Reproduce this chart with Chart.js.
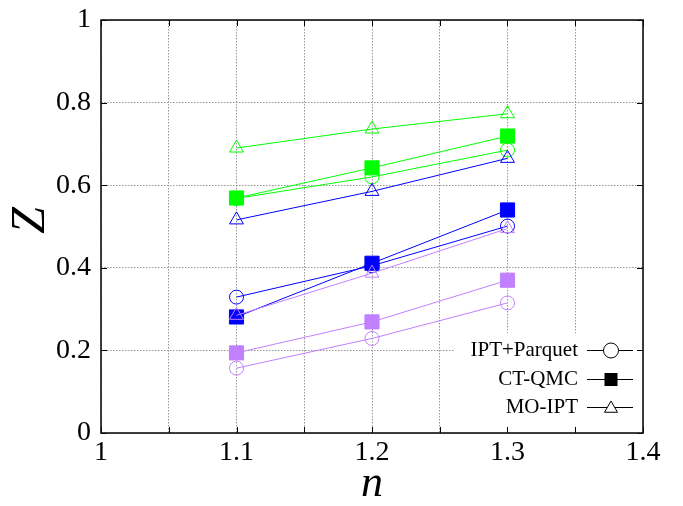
<!DOCTYPE html>
<html>
<head>
<meta charset="utf-8">
<script src="https://cdn.jsdelivr.net/npm/chart.js@4/dist/chart.umd.min.js"></script>
<style>
  html, body { margin: 0; padding: 0; background: #fff; }
  #wrap { width: 683px; height: 506px; }
</style>
</head>
<body>
<div id="wrap"><canvas id="c" width="683" height="506"></canvas></div>
<script>
// ---- data ----
const nValues = [1.1, 1.2, 1.3];

const greenParquet  = [0.568, 0.620, 0.685];
const greenQMC      = [0.569, 0.642, 0.719];
const greenMO       = [0.690, 0.736, 0.773];

const blueParquet   = [0.329, 0.405, 0.501];
const blueQMC       = [0.281, 0.411, 0.540];
const blueMO        = [0.516, 0.585, 0.665];

const purpleParquet = [0.157, 0.229, 0.315];
const purpleQMC     = [0.194, 0.269, 0.370];
const purpleMO      = [0.285, 0.387, 0.495];

const legendLabels = ['IPT+Parquet', 'CT-QMC', 'MO-IPT'];
const legendStyles = ['circle', 'rect', 'triangle'];

const xTickLabels = ['1', '1.1', '1.2', '1.3', '1.4'];
const yTickLabels = ['0', '0.2', '0.4', '0.6', '0.8', '1'];

const GREEN = '#00ff00', BLUE = '#0000ff', PURPLE = '#c080ff';
const SERIF = '"Liberation Serif", "DejaVu Serif", serif';

function pts(arr) { return nValues.map((x, i) => ({x: x, y: arr[i]})); }

function ds(label, arr, color, style) {
  const radius = style === 'rect' ? 10 : (style === 'triangle' ? 8 : 7);
  return {
    label: label,
    data: pts(arr),
    borderColor: color,
    backgroundColor: style === 'rect' ? color : 'rgba(0,0,0,0)',
    pointBackgroundColor: style === 'rect' ? color : 'rgba(0,0,0,0)',
    pointBorderColor: color,
    pointStyle: style,
    pointRadius: radius,
    pointHoverRadius: radius,
    pointBorderWidth: 1,
    borderWidth: 1,
    showLine: true,
    fill: false,
    tension: 0
  };
}

// dataset 0 is drawn last (on top) in Chart.js
const datasets = [
  ds('purple MO-IPT', purpleMO, PURPLE, 'triangle'),
  ds('purple CT-QMC', purpleQMC, PURPLE, 'rect'),
  ds('purple IPT+Parquet', purpleParquet, PURPLE, 'circle'),
  ds('blue MO-IPT', blueMO, BLUE, 'triangle'),
  ds('blue CT-QMC', blueQMC, BLUE, 'rect'),
  ds('blue IPT+Parquet', blueParquet, BLUE, 'circle'),
  ds('green MO-IPT', greenMO, GREEN, 'triangle'),
  ds('green CT-QMC', greenQMC, GREEN, 'rect'),
  ds('green IPT+Parquet', greenParquet, GREEN, 'circle')
];

function drawMarker(ctx, style, x, y, r) {
  ctx.beginPath();
  if (style === 'circle') {
    ctx.arc(x, y, r, 0, Math.PI * 2);
    ctx.stroke();
  } else if (style === 'rect') {
    const s = r * Math.SQRT1_2;
    ctx.fillRect(x - s, y - s, 2 * s, 2 * s);
  } else {
    ctx.moveTo(x, y - r);
    ctx.lineTo(x + r * Math.sin(2 * Math.PI / 3), y - r * Math.cos(2 * Math.PI / 3));
    ctx.lineTo(x + r * Math.sin(4 * Math.PI / 3), y - r * Math.cos(4 * Math.PI / 3));
    ctx.closePath();
    ctx.fillStyle = '#fff';
    ctx.fill();
    ctx.stroke();
  }
}

const keyPlugin = {
  id: 'keyPlugin',
  beforeDatasetsDraw(chart) {
    const ctx = chart.ctx;
    const a = chart.chartArea;
    ctx.save();
    ctx.fillStyle = '#fff';
    ctx.fillRect(455, 333, a.right - 455, a.bottom - 333);
    ctx.font = '21px ' + SERIF;
    ctx.textAlign = 'right';
    ctx.textBaseline = 'middle';
    legendLabels.forEach((lab, i) => {
      const y = Math.round(350 + i * 28.5) + 0.5;
      ctx.fillStyle = '#000';
      ctx.fillText(lab, 578, y);
      ctx.strokeStyle = '#000';
      ctx.lineWidth = 1;
      ctx.beginPath();
      ctx.moveTo(587, y);
      ctx.lineTo(633, y);
      ctx.stroke();
      ctx.fillStyle = '#000';
      const st = legendStyles[i];
      if (st === 'circle') {
        ctx.beginPath(); ctx.arc(611, y, 7.5, 0, Math.PI * 2);
        ctx.fillStyle = '#fff'; ctx.fill(); ctx.stroke();
      } else if (st === 'rect') {
        drawMarker(ctx, 'rect', 611, y, 9.2);
      } else {
        drawMarker(ctx, 'triangle', 611, y + 1, 7.5);
      }
    });
    ctx.restore();
  },
  afterDraw(chart) {
    const ctx = chart.ctx;
    const a = chart.chartArea;
    const xs = chart.scales.x, ys = chart.scales.y;
    ctx.save();
    ctx.strokeStyle = '#000';
    ctx.lineWidth = 1;
    const L = 6;
    ctx.beginPath();
    xs.ticks.forEach(t => {
      const px = Math.round(xs.getPixelForValue(t.value)) + 0.5;
      ctx.moveTo(px, a.bottom); ctx.lineTo(px, a.bottom - L);
      ctx.moveTo(px, a.top); ctx.lineTo(px, a.top + L);
    });
    ys.ticks.forEach(t => {
      const py = Math.round(ys.getPixelForValue(t.value)) + 0.5;
      ctx.moveTo(a.left, py); ctx.lineTo(a.left + L, py);
      ctx.moveTo(a.right, py); ctx.lineTo(a.right - L, py);
    });
    ctx.stroke();
    ctx.lineWidth = 1.6;
    ctx.strokeStyle = '#111';
    ctx.strokeRect(a.left, a.top, a.right - a.left, a.bottom - a.top);
    ctx.restore();
  }
};

new Chart(document.getElementById('c'), {
  type: 'scatter',
  data: { datasets: datasets },
  plugins: [keyPlugin],
  options: {
    responsive: false,
    animation: false,
    devicePixelRatio: 1,
    layout: { padding: { top: 20, right: 40, left: 0, bottom: 0 } },
    plugins: { legend: { display: false }, tooltip: { enabled: false } },
    scales: {
      x: {
        type: 'linear',
        min: 1, max: 1.4,
        afterFit(s) { s.height = 73; s.paddingLeft = 0; s.paddingRight = 0; },
        ticks: {
          stepSize: 0.05,
          padding: 3,
          color: '#000',
          font: { family: SERIF, size: 28 },
          maxRotation: 0,
          autoSkip: false,
          callback(v) {
            const k = Math.round(v * 10);
            if (Math.abs(v * 10 - k) > 1e-6) return '';
            return xTickLabels[k - 10];
          }
        },
        grid: { color: 'rgba(140,140,140,0.9)', drawTicks: false, lineWidth: 1 },
        border: { display: false, dash: [1.5, 1.5] },
        title: {
          display: true, text: 'n', color: '#000',
          font: { family: SERIF, size: 44, style: 'italic', lineHeight: 1 },
          padding: { top: 0, bottom: 0 }
        }
      },
      y: {
        type: 'linear',
        min: 0, max: 1,
        afterFit(s) { s.width = 101; s.paddingTop = 0; s.paddingBottom = 0; },
        ticks: {
          stepSize: 0.2,
          padding: 10,
          color: '#000',
          font: { family: SERIF, size: 28 },
          callback(v) {
            const k = Math.round(v * 5);
            return yTickLabels[k];
          }
        },
        grid: { color: 'rgba(140,140,140,0.9)', drawTicks: false, lineWidth: 1 },
        border: { display: false, dash: [1.5, 1.5] },
        title: {
          display: true, text: '\u00a0Z', color: '#000',
          font: { family: SERIF, size: 48, style: 'italic', lineHeight: 1 },
          padding: { top: 7, bottom: 0 }
        }
      }
    }
  }
});
</script>
</body>
</html>
